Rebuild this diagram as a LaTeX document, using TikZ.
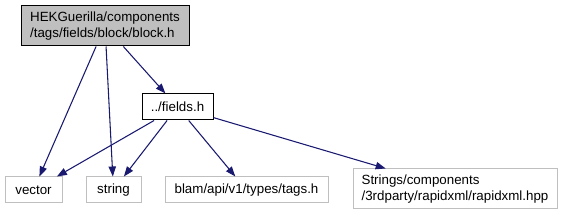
\documentclass[tikz,border=0pt]{standalone}
\usepackage{fontspec}
\setmainfont{Liberation Sans}
\usetikzlibrary{arrows.meta}
\definecolor{edgeblue}{HTML}{191970}
\definecolor{extgray}{HTML}{BFBFBF}
\begin{document}
\begin{tikzpicture}[x=0.75pt, y=-0.75pt, every node/.style={font=\fontsize{10}{12.5}\selectfont},
  file/.style={draw, line width=0.75pt, inner sep=2pt, align=left, minimum height=19.5pt},
  ext/.style={file, draw=extgray},
  edge/.style={draw=edgeblue, line width=0.8pt, -{Triangle[length=7.5pt,width=5.5pt]}}]
\useasboundingbox (0,0) rectangle (562,216);
\node[file,fill=extgray,minimum width=126pt,minimum height=30pt] (block) at (105,26) {HEKGuerilla/components\\/tags/fields/block/block.h};
\node[file,fill=white,minimum width=53.25pt] (fields) at (177.5,107) {../fields.h};
\node[ext,minimum width=42.75pt] (vector) at (33.5,190) {vector};
\node[ext,minimum width=41.25pt] (string) at (113.5,190) {string};
\node[ext,minimum width=122.25pt] (tags) at (246.5,190) {blam/api/v1/types/tags.h};
\node[ext,minimum width=153pt,minimum height=30pt] (rapidxml) at (455,189) {Strings/components\\/3rdparty/rapidxml/rapidxml.hpp};
\draw[edge] (block) -- (vector); \draw[edge] (block) -- (string); \draw[edge] (block) -- (fields);
\draw[edge] (fields) -- (vector); \draw[edge] (fields) -- (string);
\draw[edge] (fields) -- (tags); \draw[edge] (fields) -- (rapidxml);
\end{tikzpicture}
\end{document}
